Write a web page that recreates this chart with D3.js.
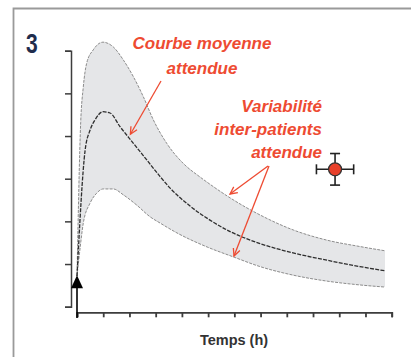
<!DOCTYPE html>
<html><head><meta charset="utf-8">
<script src="https://cdn.jsdelivr.net/npm/d3@7"></script>
<style>
html,body{margin:0;padding:0;background:#fff;}
svg{display:block;}
</style></head>
<body>
<svg id="chart" width="411" height="357"></svg>
<script>
// ---- data (time in h, concentration in arbitrary units) ----
const timeTicks = [0,1,2,3,4,5,6,7,8,9,10,11,12];
const concTicks = [0,1,2,3,4,5,6];

const upperTime = [0,0.14,0.24,0.37,0.62,0.99,1.38,1.77,2.15,2.53,2.91,3.42,4.05,4.69,5.07,5.84,6.98,8.24,9.53,10.79,11.75];
const upperConc = [0.72,4.31,5.15,5.71,6.02,6.20,6.09,5.78,5.39,4.92,4.38,3.83,3.36,3.04,2.87,2.55,2.15,1.80,1.56,1.41,1.31];

const meanTime = [0,0.31,0.50,0.69,0.99,1.26,1.64,2.15,2.66,3.17,3.55,4.31,5.07,5.84,6.98,8.24,9.53,10.79,11.75];
const meanConc = [0.72,3.67,4.14,4.38,4.57,4.54,4.22,3.83,3.44,3.05,2.78,2.36,2.03,1.76,1.48,1.26,1.09,0.94,0.84];

const lowerTime = [0,0.11,0.24,0.50,0.75,1.00,1.38,1.77,2.28,2.78,3.17,3.81,4.96,5.95,6.98,8.24,9.53,10.79,11.75];
const lowerConc = [0.72,1.33,1.96,2.43,2.66,2.76,2.76,2.62,2.38,2.11,1.96,1.73,1.40,1.17,0.94,0.74,0.60,0.51,0.46];

const doseTime = [0];
const doseLevel = [0.74];

const obsTime = [9.84];
const obsConc = [3.22];
const obsTimeErr = [0.71];
const obsConcErr = [0.37];

const panelLabel = "3";
const xLabel = "Temps (h)";
const noteMean = ["Courbe moyenne","attendue"];
const noteVar = ["Variabilité","inter-patients","attendue"];

// ---- drawing ----
const svg = d3.select("#chart");
const x = d3.scaleLinear().domain([0,12]).range([77,391.7]);
const y = d3.scaleLinear().domain([0,6]).range([306.7,50.7]);

const red = "#ee4b32";

// frame
svg.append("path").attr("d","M13.5,357 V8.5 H411")
  .attr("fill","none").attr("stroke","#9a9a9a").attr("stroke-width",1.8);

// panel number
svg.append("text").text(panelLabel)
  .attr("transform","translate(26,53) scale(0.78,1)")
  .attr("font-family","'Liberation Sans', Arial, sans-serif")
  .attr("font-weight","bold").attr("font-size",27).attr("fill","#1f2d4d");

const zip = (ts, cs) => ts.map((t,i)=>[t,cs[i]]);
const upper = zip(upperTime, upperConc);
const mean = zip(meanTime, meanConc);
const lower = zip(lowerTime, lowerConc);

const line = d3.line().x(d=>x(d[0])).y(d=>y(d[1])).curve(d3.curveMonotoneX);

// band: area under upper curve, clipped to region above lower curve
const defs = svg.append("defs");
defs.append("clipPath").attr("id","aboveLower").append("path")
  .attr("d", d3.area().x(d=>x(d[0])).y0(0).y1(d=>y(d[1])).curve(d3.curveMonotoneX)(lower));
svg.append("path")
  .attr("d", d3.area().x(d=>x(d[0])).y0(y(0)+20).y1(d=>y(d[1])).curve(d3.curveMonotoneX)(upper))
  .attr("fill","#e5e6e8").attr("clip-path","url(#aboveLower)");

svg.append("path").attr("d",line(upper)).attr("fill","none")
  .attr("stroke","#8c8c8c").attr("stroke-width",1).attr("stroke-dasharray","3,1.2");
svg.append("path").attr("d",line(lower)).attr("fill","none")
  .attr("stroke","#8c8c8c").attr("stroke-width",1).attr("stroke-dasharray","3,1.2");
svg.append("path").attr("d",line(mean)).attr("fill","none")
  .attr("stroke","#2e2e2e").attr("stroke-width",1.3).attr("stroke-dasharray","4,1.3");

// axes
const yAxis = d3.axisLeft(y).tickValues(concTicks).tickSize(6).tickSizeOuter(6).tickFormat("");
const gy = svg.append("g").attr("transform","translate(71,0)").call(yAxis);
gy.selectAll("path,line").attr("stroke","#3d3d3d").attr("stroke-width",1.5);

const xAxis = d3.axisBottom(x).tickValues(timeTicks).tickSize(5).tickSizeOuter(5).tickFormat("");
const gx = svg.append("g").attr("transform","translate(0,312.3)").call(xAxis);
gx.selectAll("path,line").attr("stroke","#3d3d3d").attr("stroke-width",1.8);

svg.append("text").text(xLabel)
  .attr("x",234).attr("y",345).attr("text-anchor","middle")
  .attr("font-family","'Liberation Sans', Arial, sans-serif")
  .attr("font-weight","bold").attr("font-size",14.5).attr("fill","#333");

// dose arrow
doseTime.forEach((t,i)=>{
  const xd = x(t), tip = y(doseLevel[i]);
  svg.append("line").attr("x1",xd).attr("x2",xd).attr("y1",318).attr("y2",tip+10)
    .attr("stroke","#000").attr("stroke-width",1.6);
  svg.append("path").attr("d",`M${xd-6},${tip+13} L${xd},${tip} L${xd+6},${tip+13} Z`).attr("fill","#000");
});

// observed point with error bars
obsTime.forEach((t,i)=>{
  const cx = x(t), cy = y(obsConc[i]);
  const x0 = x(t-obsTimeErr[i]), x1 = x(t+obsTimeErr[i]);
  const y0 = y(obsConc[i]-obsConcErr[i]), y1 = y(obsConc[i]+obsConcErr[i]);
  const g = svg.append("g").attr("stroke","#222").attr("stroke-width",1.6);
  g.append("line").attr("x1",x0).attr("x2",x1).attr("y1",cy).attr("y2",cy);
  g.append("line").attr("x1",x0).attr("x2",x0).attr("y1",cy-5).attr("y2",cy+5);
  g.append("line").attr("x1",x1).attr("x2",x1).attr("y1",cy-5).attr("y2",cy+5);
  g.append("line").attr("x1",cx).attr("x2",cx).attr("y1",y0).attr("y2",y1);
  g.append("line").attr("x1",cx-5).attr("x2",cx+5).attr("y1",y0).attr("y2",y0);
  g.append("line").attr("x1",cx-5).attr("x2",cx+5).attr("y1",y1).attr("y2",y1);
  svg.append("circle").attr("cx",cx).attr("cy",cy).attr("r",6.5)
    .attr("fill","#e8402a").attr("stroke","#333").attr("stroke-width",1.3);
});

// annotations
const font = "'Liberation Sans', Arial, sans-serif";
noteMean.forEach((s,i)=>{
  svg.append("text").text(s).attr("x",202).attr("y",49+i*24.5).attr("text-anchor","middle")
    .attr("font-family",font).attr("font-weight","bold").attr("font-style","italic")
    .attr("font-size",17).attr("fill",red);
});
noteVar.forEach((s,i)=>{
  svg.append("text").text(s).attr("x",322).attr("y",112+i*23).attr("text-anchor","end")
    .attr("font-family",font).attr("font-weight","bold").attr("font-style","italic")
    .attr("font-size",17).attr("fill",red);
});

function arrow(x1,y1,x2,y2){
  svg.append("line").attr("x1",x1).attr("y1",y1).attr("x2",x2).attr("y2",y2)
    .attr("stroke",red).attr("stroke-width",1.3);
  const a = Math.atan2(y2-y1,x2-x1), L=8, w=0.45;
  const p1=[x2-L*Math.cos(a-w), y2-L*Math.sin(a-w)];
  const p2=[x2-L*Math.cos(a+w), y2-L*Math.sin(a+w)];
  svg.append("path").attr("d",`M${p1} L${x2},${y2} L${p2}`).attr("fill","none")
    .attr("stroke",red).attr("stroke-width",1.3);
}
// arrows pointing to the mean curve and the band limits
arrow(161, 81, x(meanTime[7])-3, y(meanConc[7])-9);
arrow(268, 166, 230, 194);
arrow(269, 166, 234, 256);
</script>
</body></html>
